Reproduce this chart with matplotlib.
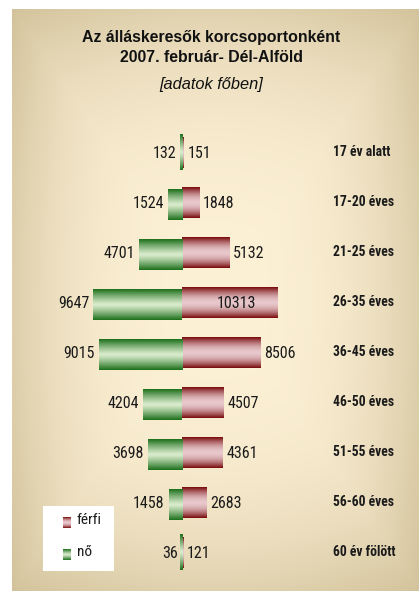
import numpy as np
import matplotlib
matplotlib.use("Agg")
import matplotlib.pyplot as plt
from matplotlib import font_manager as fm

# data
groups = ["17 év alatt", "17-20 éves", "21-25 éves", "26-35 éves", "36-45 éves",
          "46-50 éves", "51-55 éves", "56-60 éves", "60 év fölött"]
no = [132, 1524, 4701, 9647, 9015, 4204, 3698, 1458, 36]
ferfi = [151, 1848, 5132, 10313, 8506, 4507, 4361, 2683, 121]

title = "Az álláskeresők korcsoportonként\n2007. február- Dél-Alföld"
subtitle = "[adatok főben]"


def pick_font(names):
    for n in names:
        try:
            fm.findfont(fm.FontProperties(family=n), fallback_to_default=False)
            return n
        except Exception:
            pass
    return "DejaVu Sans"


narrow = pick_font(["Liberation Sans Narrow", "Arial Narrow", "Roboto Condensed", "Liberation Sans"])
regular = pick_font(["Liberation Sans", "Arial"])

W, H = 419, 591
fig = plt.figure(figsize=(W / 100, H / 100), dpi=100)
fig.patch.set_facecolor("white")

# background panel with a centre gradient
bg = fig.add_axes([12 / W, 0, (W - 12) / W, (H - 9) / H])
bg.set_axis_off()
gx = np.linspace(-1, 1, 300)
gy = np.linspace(-1, 1, 420)
X, Y = np.meshgrid(gx, gy)
d = np.clip(np.maximum(np.abs(X), np.abs(Y)), 0, 1)
d = np.sqrt(0.55 * X ** 2 + 0.45 * Y ** 2) * 0.4 + 0.6 * d
d = np.clip(d, 0, 1) ** 2.8
centre = np.array([252, 240, 213]) / 255
edge = np.array([211, 195, 156]) / 255
img = centre + (edge - centre) * d[..., None]
bg.imshow(img, aspect="auto", extent=[0, 1, 0, 1], interpolation="bilinear")
bg.set_xlim(0, 1)
bg.set_ylim(0, 1)


def grad(light, dark, p, n=64):
    t = np.linspace(0, 1, n)
    f = np.abs(2 * t - 1) ** p
    c = np.array(light) + (np.array(dark) - np.array(light)) * f[:, None]
    return (c / 255)[:, None, :]


green_img = grad([218, 236, 205], [30, 112, 28], 1.2)
red_img = grad([232, 200, 204], [120, 10, 12], 1.8)

# main axes: x=0 at pixel 182, 10313 -> 95 px
px_per = 95 / 10313
ax_left, ax_right = 12, 412
ax_top, ax_bot = 127.5, 577.5
ax = fig.add_axes([ax_left / W, 1 - ax_bot / H, (ax_right - ax_left) / W, (ax_bot - ax_top) / H])
ax.set_axis_off()
xlim = (-(182 - ax_left) / px_per, (ax_right - 182) / px_per)
ylim = (len(groups) - 0.5, -0.5)

y = np.arange(len(groups))
h = 0.62
rb = ax.barh(y, ferfi, height=h, color="none", edgecolor="none")
gb = ax.barh(y + 0.04, [-v for v in no], height=h, color="none", edgecolor="none")

for patch in rb.patches:
    x0, y0 = patch.get_x(), patch.get_y()
    w, hh = patch.get_width(), patch.get_height()
    im = ax.imshow(red_img, extent=[x0, x0 + w, y0 + hh, y0], aspect="auto",
                   interpolation="bilinear", zorder=2)
    im.set_clip_path(patch)

min_w = 3 / px_per
for patch in gb.patches:
    x0, y0 = patch.get_x(), patch.get_y()
    w, hh = patch.get_width(), patch.get_height()
    if abs(w) < min_w:
        im = ax.imshow(green_img, extent=[-2 / px_per, 1 / px_per, y0 + hh, y0 - 0.1],
                       aspect="auto", interpolation="bilinear", zorder=3)
    else:
        im = ax.imshow(green_img, extent=[x0 + w, x0, y0 + hh, y0], aspect="auto",
                       interpolation="bilinear", zorder=3)
        im.set_clip_path(patch)

ax.set_xlim(*xlim)
ax.set_ylim(*ylim)

lab = dict(fontsize=11.5, family=narrow, color="#1a1a1a", va="center")
for i, (f, m) in enumerate(zip(no, ferfi)):
    ax.annotate(str(f), (-f, i), xytext=(-4, -1), textcoords="offset pixels", ha="right", **lab)
    if m > 10000:
        ax.annotate(str(m), (m, i), xytext=(-21, -1), textcoords="offset pixels", ha="right", **lab)
    else:
        ax.annotate(str(m), (m, i), xytext=(4, -1), textcoords="offset pixels", ha="left", **lab)
    ax.text((333 - ax_left) / (ax_right - ax_left), i - 0.02, groups[i],
            transform=ax.get_yaxis_transform(), ha="left", va="center",
            fontsize=9.8, fontweight="bold", family=narrow, color="#1a1a1a")

fig.text(211 / W, 1 - 47.5 / H, title, ha="center", va="center", fontsize=11.4,
         fontweight="bold", family=regular, linespacing=1.35, color="#111111")
fig.text(211 / W, 1 - 84 / H, subtitle, ha="center", va="center", fontsize=11.8,
         style="italic", family=regular, color="#111111")

# legend box
lx0, ly0, lx1, ly1 = 43, 506, 114, 571
lg = fig.add_axes([lx0 / W, 1 - ly1 / H, (lx1 - lx0) / W, (ly1 - ly0) / H])
lg.set_facecolor("white")
for s in lg.spines.values():
    s.set_visible(False)
lg.set_xticks([])
lg.set_yticks([])
lg.imshow(red_img, extent=[19.5, 27.5, 22, 11], aspect="auto", interpolation="bilinear")
lg.imshow(green_img, extent=[19.5, 27.5, 54, 43], aspect="auto", interpolation="bilinear")
lg.set_xlim(0, lx1 - lx0)
lg.set_ylim(ly1 - ly0, 0)
lg.text(33.5, 14.5, "férfi", ha="left", va="center", fontsize=11, family=narrow, color="#1a1a1a")
lg.text(33.5, 46, "nő", ha="left", va="center", fontsize=11, family=narrow, color="#1a1a1a")

fig.savefig("out.png", dpi=100, facecolor="white")
